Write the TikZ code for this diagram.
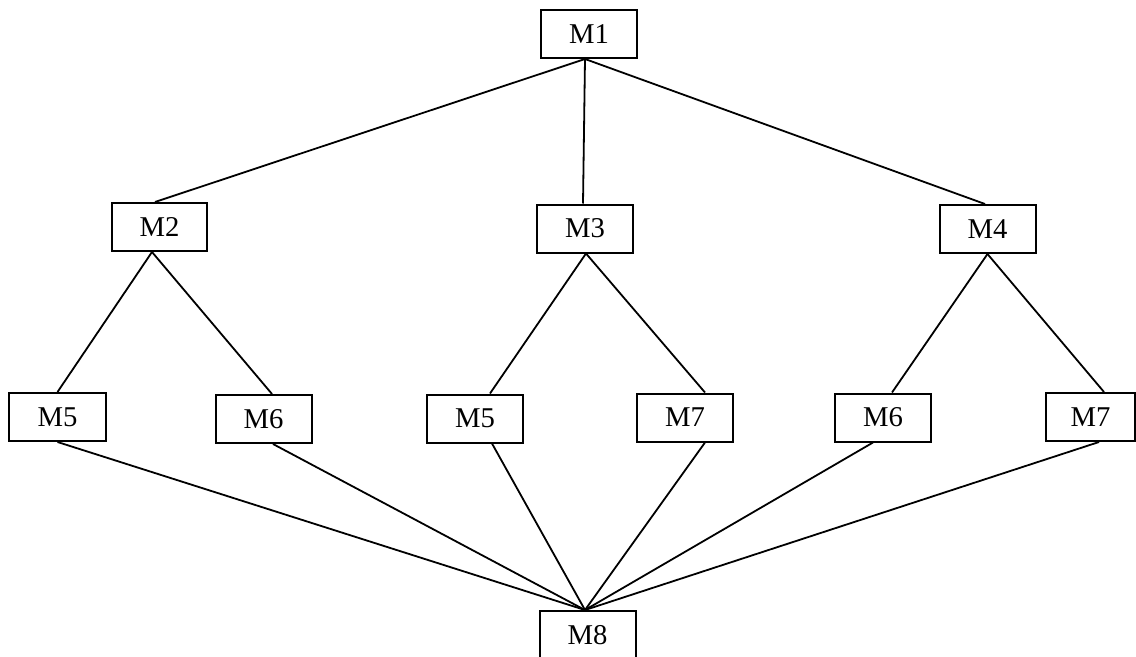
\documentclass[tikz,border=0pt]{standalone}
\usepackage{fontspec}
\setmainfont{Liberation Serif}
\usetikzlibrary{calc}
\begin{document}
\begin{tikzpicture}[x=0.75pt,y=-0.75pt,
  box/.style={draw,line width=1.5pt,minimum width=72pt,minimum height=36pt,inner sep=0pt,font=\fontsize{21.5}{26}\selectfont},
  link/.style={line width=1.35pt}]
\useasboundingbox (0,0) rectangle (1136,657);
\node[box] (m1) at (589,34) {M1};
\node[box,minimum width=71pt] (m2) at (159.5,227) {M2};
\node[box] (m3) at (585,228.5) {M3};
\node[box] (m4) at (987.5,229) {M4};
\node[box,minimum width=73pt] (m5a) at (57.5,417) {M5};
\node[box] (m6a) at (263.5,419) {M6};
\node[box] (m5b) at (475,418.5) {M5};
\node[box] (m7a) at (685,417.5) {M7};
\node[box] (m6b) at (883,417.5) {M6};
\node[box,minimum width=66.75pt] (m7b) at (1090.5,417) {M7};
\node[box] (m8) at (587.5,635) {M8};
% top level
\coordinate (t1) at ($(m1.south)+(-4,0)$);
\draw[link] (t1) -- ($(m2.north)+(-4.5,0)$);
\draw[link] (t1) -- ($(m3.north)+(-2,0)$);
\draw[link] (t1) -- ($(m4.north)+(-2.5,0)$);
% second level
\draw[link] ($(m2.south)+(-7.5,0)$) -- (m5a.north);
\draw[link] ($(m2.south)+(-7.5,0)$) -- ($(m6a.north)+(8.5,0)$);
\draw[link] ($(m3.south)+(1,0)$) -- ($(m5b.north)+(15,0)$);
\draw[link] ($(m3.south)+(1,0)$) -- ($(m7a.north)+(20,0)$);
\draw[link] (m4.south) -- ($(m6b.north)+(9,0)$);
\draw[link] (m4.south) -- ($(m7b.north)+(13.5,0)$);
% to M8
\coordinate (b8) at ($(m8.north)+(-2.5,0)$);
\draw[link] (m5a.south) -- (b8);
\draw[link] ($(m6a.south)+(9.5,0)$) -- (b8);
\draw[link] ($(m5b.south)+(17,0)$) -- (b8);
\draw[link] ($(m7a.south)+(20,0)$) -- (b8);
\draw[link] ($(m6b.south)+(-10,0)$) -- (b8);
\draw[link] ($(m7b.south)+(8.5,0)$) -- (b8);
\end{tikzpicture}
\end{document}
